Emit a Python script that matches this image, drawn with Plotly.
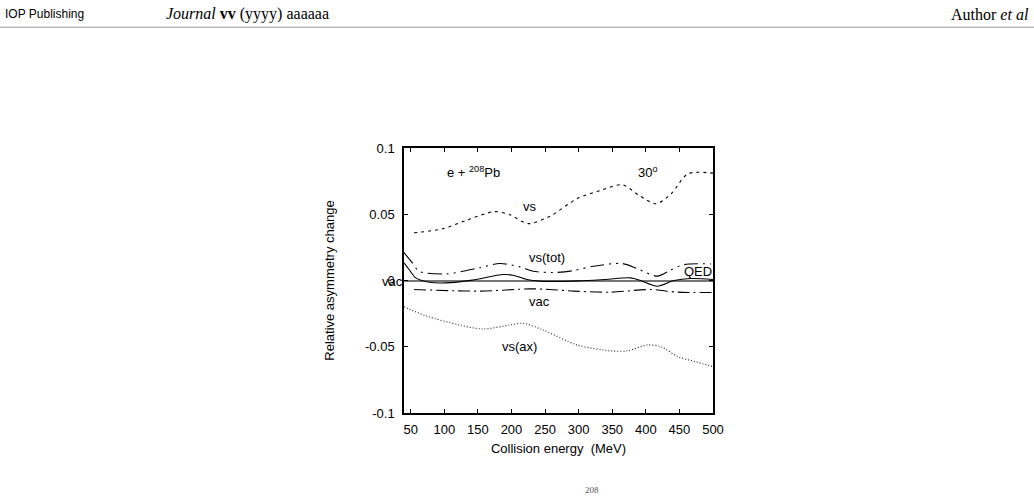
import plotly.graph_objects as go

W, H = 1034, 497

# ---- data ----
vs_E = [55, 97.5, 132.5, 175, 197.5, 225, 257.5, 297.5, 332.5, 365, 390, 415, 437.5, 462.5, 500]
vs_V = [0.036, 0.039, 0.0454, 0.052, 0.0496, 0.0429, 0.0486, 0.0617, 0.068, 0.0722, 0.0642, 0.0579, 0.0654, 0.0805, 0.081]

tot_E = [40, 52.5, 62.5, 102.5, 152.5, 182.5, 212.5, 232.5, 262.5, 292.5, 322, 365, 387, 417, 437, 457, 497]
tot_V = [0.021, 0.0133, 0.007, 0.005, 0.0096, 0.0128, 0.0103, 0.007, 0.006, 0.0075, 0.0108, 0.0128, 0.009, 0.0033, 0.008, 0.012, 0.0125]

qed_E = [40, 47.5, 57.5, 77.5, 102.5, 142, 187.5, 202, 222.5, 242.5, 300, 340, 377, 392, 417, 442, 467, 500]
qed_V = [0.0133, 0.0083, 0.002, -0.0013, -0.0018, 0.0003, 0.0045, 0.004, 0.0008, -0.0005, -0.0003, 0.0008, 0.002, 0.0, -0.0043, 0.0, 0.0015, 0.0008]

vac_E = [55, 152.5, 227.5, 257, 292.5, 347, 407, 447, 500]
vac_V = [-0.0068, -0.008, -0.0063, -0.0068, -0.008, -0.0088, -0.0068, -0.0088, -0.009]

ax_E = [40, 72.5, 122.5, 157.5, 197.5, 217.5, 247.5, 297.5, 347.5, 372.5, 402.5, 422.5, 447.5, 472.5, 500]
ax_V = [-0.0198, -0.0266, -0.0336, -0.0366, -0.0336, -0.0323, -0.0374, -0.0486, -0.0531, -0.0531, -0.0486, -0.050, -0.0574, -0.0611, -0.065]

x_ticks = [50, 100, 150, 200, 250, 300, 350, 400, 450, 500]
y_ticks = [-0.1, -0.05, 0, 0.05, 0.1]
y_ticktext = ["-0.1", "-0.05", "0", "0.05", "0.1"]

# ---- layout geometry (pixels) ----
L, R, T, B = 404, 713, 148, 413.5

def px(x):
    # pixel -> plot-area paper fraction
    return (x - L) / (R - L)

def py(y):
    return (B - y) / (B - T)

fig = go.Figure()
line_w = 1.1
fig.add_trace(go.Scatter(x=vs_E, y=vs_V, mode="lines", line=dict(color="black", width=line_w, dash="3px,4px", shape="spline", smoothing=0.8)))
fig.add_trace(go.Scatter(x=tot_E, y=tot_V, mode="lines", line=dict(color="black", width=line_w, dash="14px,5px,2px,5px,2px,5px", shape="spline", smoothing=0.8)))
fig.add_trace(go.Scatter(x=qed_E, y=qed_V, mode="lines", line=dict(color="black", width=line_w, shape="spline", smoothing=0.8)))
fig.add_trace(go.Scatter(x=vac_E, y=vac_V, mode="lines", line=dict(color="black", width=line_w, dash="12px,4px,2px,4px", shape="spline", smoothing=0.8)))
fig.add_trace(go.Scatter(x=ax_E, y=ax_V, mode="lines", line=dict(color="#222", width=line_w, dash="1px,2px", shape="spline", smoothing=0.8)))

tickfont = dict(family="Liberation Sans, Arial, sans-serif", size=13, color="black")
fig.update_layout(
    width=W, height=H,
    paper_bgcolor="white", plot_bgcolor="white",
    showlegend=False,
    margin=dict(l=L, r=W - R, t=T, b=H - B, autoexpand=False),
    xaxis=dict(range=[40, 500], tickvals=x_ticks, ticks="inside", ticklen=4, tickwidth=1,
               tickcolor="black", showline=True, linecolor="black", linewidth=1.5,
               mirror="allticks", showgrid=False, zeroline=False, tickfont=tickfont,
               ticklabelstandoff=4,
               title=dict(text="Collision energy  (MeV)", font=tickfont, standoff=8)),
    yaxis=dict(range=[-0.1, 0.1], tickvals=y_ticks, ticktext=y_ticktext, ticks="inside", ticklen=4,
               tickwidth=1, tickcolor="black", showline=True, linecolor="black", linewidth=1.5,
               mirror="allticks", showgrid=False, zeroline=True, zerolinecolor="#777",
               zerolinewidth=1.5, tickfont=tickfont, ticklabelstandoff=5,
               title=dict(text="Relative asymmetry change", font=tickfont, standoff=27)),
)

lab = dict(family="Liberation Sans, Arial, sans-serif", size=13, color="black")
def ann(text, x, y, xanchor="center", font=lab):
    fig.add_annotation(text=text, x=x, y=y, xref="paper", yref="paper", showarrow=False,
                       xanchor=xanchor, yanchor="middle", font=font)

ann("e + <sup>208</sup>Pb", px(473), py(172))
ann("30<sup>o</sup>", px(648), py(172))
ann("vs", px(530), py(207))
ann("vs(tot)", px(547), py(258))
ann("QED", px(714), py(272), xanchor="right")
ann("vac", px(539), py(302))
ann("vs(ax)", px(519), py(347))
ann("vac", px(405), py(281.5), xanchor="right")

# header
ann("IOP Publishing", px(3), py(14), xanchor="left",
    font=dict(family="Liberation Sans, sans-serif", size=12, color="black"))
ann("<i>Journal</i> <b>vv</b> (yyyy) aaaaaa", px(164), py(14), xanchor="left",
    font=dict(family="Liberation Serif, serif", size=16, color="black"))
ann("Author <i>et al</i>", px(1031), py(14), xanchor="right",
    font=dict(family="Liberation Serif, serif", size=16, color="black"))
fig.add_shape(type="line", xref="paper", yref="paper", x0=px(0), x1=px(W), y0=py(27), y1=py(27),
              line=dict(color="#999", width=1))

# caption superscript partly visible at the bottom
ann("208", px(592), py(491), font=dict(family="Liberation Serif, serif", size=9, color="#555"))

fig.write_html("out.html")
